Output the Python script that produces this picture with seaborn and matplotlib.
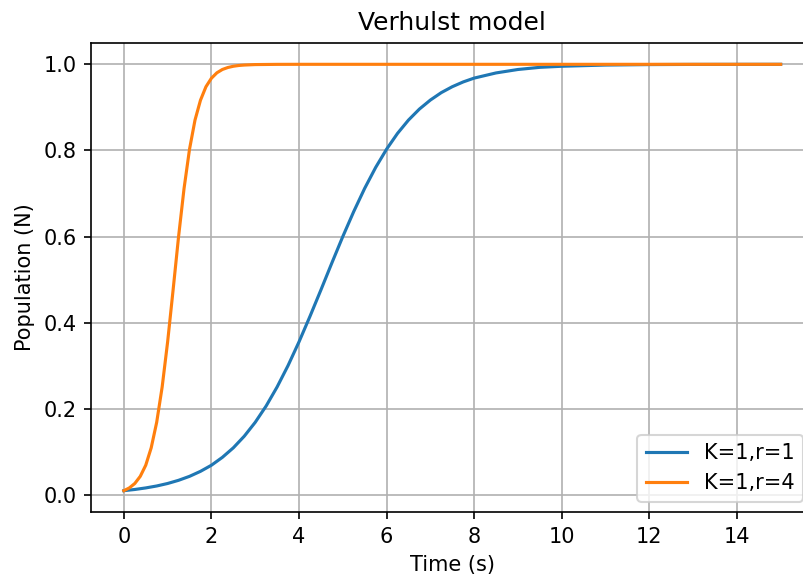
import matplotlib
matplotlib.use("Agg")
import matplotlib.pyplot as plt
import seaborn as sns
import pandas as pd

# Population over time, growth rate r = 1
time_r1 = [0.0, 0.25, 0.5, 0.75, 1.0, 1.25, 1.5, 1.75, 2.0, 2.25, 2.5, 2.75,
           3.0, 3.25, 3.5, 3.75, 4.0, 4.25, 4.5, 4.75, 5.0, 5.25, 5.5, 5.75,
           6.0, 6.25, 6.5, 6.75, 7.0, 7.25, 7.5, 7.75, 8.0, 8.5, 9.0, 9.5,
           10.0, 11.0, 12.0, 13.0, 14.0, 15.0]
pop_r1 = [0.0100, 0.0128, 0.0164, 0.0209, 0.0267, 0.0341, 0.0433, 0.0549,
          0.0691, 0.0874, 0.1095, 0.1365, 0.1687, 0.2067, 0.2508, 0.3005,
          0.3555, 0.4146, 0.4760, 0.5386, 0.6000, 0.6581, 0.7120, 0.7604,
          0.8029, 0.8396, 0.8705, 0.8961, 0.9170, 0.9343, 0.9480, 0.9591,
          0.9680, 0.9800, 0.9880, 0.9930, 0.9955, 0.9983, 0.9994, 0.9998,
          0.9999, 1.0]

# Population over time, growth rate r = 4
time_r4 = [0.0, 0.125, 0.25, 0.375, 0.5, 0.625, 0.75, 0.875, 1.0, 1.125,
           1.25, 1.375, 1.5, 1.625, 1.75, 1.875, 2.0, 2.125, 2.25, 2.375,
           2.5, 2.625, 2.75, 3.0, 3.5, 4.0, 5.0, 6.0, 7.0, 8.0, 9.0, 10.0,
           11.0, 12.0, 13.0, 14.0, 15.0]
pop_r4 = [0.0100, 0.0164, 0.0267, 0.0433, 0.0691, 0.1096, 0.1687, 0.2507,
          0.3555, 0.4762, 0.6000, 0.7117, 0.8029, 0.8705, 0.9166, 0.9479,
          0.9677, 0.9803, 0.9880, 0.9926, 0.9955, 0.9973, 0.9983, 0.9994,
          0.9999, 1.0, 1.0, 1.0, 1.0, 1.0, 1.0, 1.0, 1.0, 1.0, 1.0, 1.0, 1.0]

labels = ["K=1,r=1", "K=1,r=4"]

df = pd.concat([
    pd.DataFrame({"t": time_r1, "N": pop_r1, "model": labels[0]}),
    pd.DataFrame({"t": time_r4, "N": pop_r4, "model": labels[1]}),
], ignore_index=True)

dpi = 150
fig = plt.figure(figsize=(803 / dpi, 579 / dpi), dpi=dpi)
ax = fig.add_axes([91 / 803, 67 / 579, 722.5 / 803, 469 / 579])

sns.lineplot(data=df, x="t", y="N", hue="model", hue_order=labels,
             palette=["#1f77b4", "#ff7f0e"], linewidth=1.5, ax=ax,
             estimator=None, sort=True)

ax.set_title("Verhulst model", fontsize=12)
ax.set_xlabel("Time (s)", fontsize=10)
ax.set_ylabel("Population (N)", fontsize=10)
ax.set_xticks([0, 2, 4, 6, 8, 10, 12, 14])
ax.set_yticks([0.0, 0.2, 0.4, 0.6, 0.8, 1.0])
ax.grid(True)
ax.legend(loc="lower right", title=None, fontsize=10)

fig.savefig("out.png", dpi=dpi)
